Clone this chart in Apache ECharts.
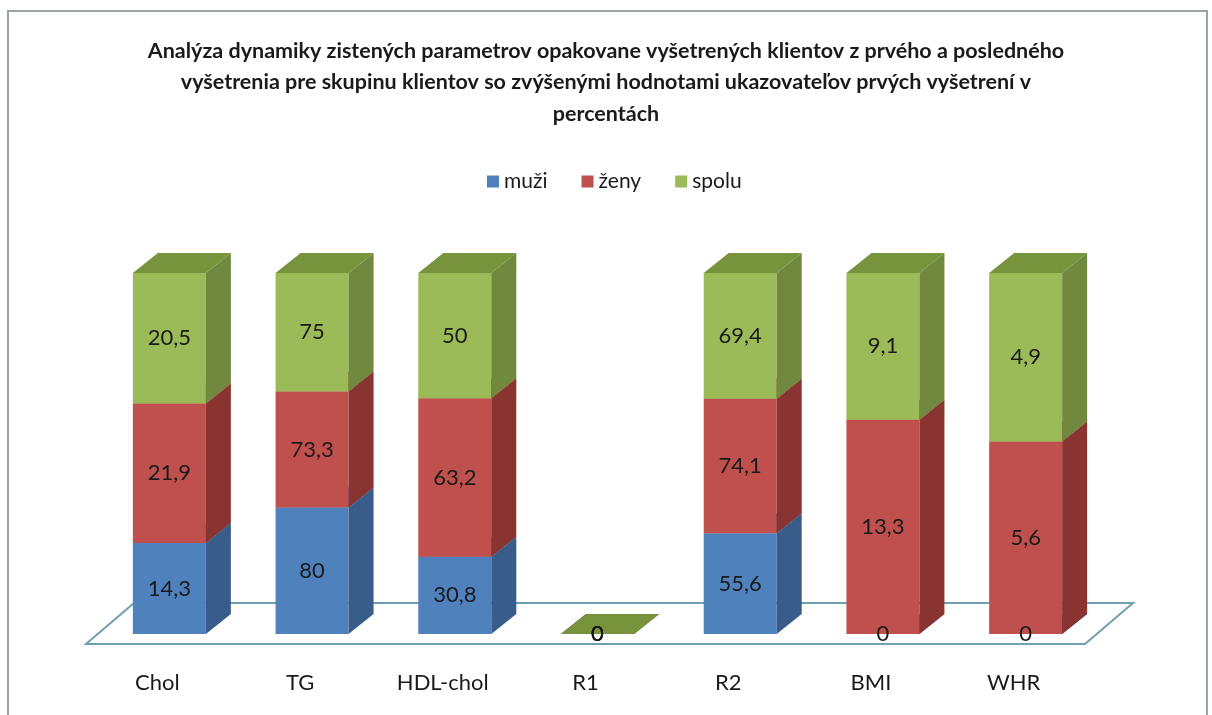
<!DOCTYPE html>
<html>
<head>
<meta charset="utf-8">
<script src="https://cdn.jsdelivr.net/npm/echarts@6/dist/echarts.min.js"></script>
<style>
  html, body { margin: 0; padding: 0; background: #fff; }
  #chart { width: 1212px; height: 715px; }
</style>
</head>
<body>
<div id="chart"></div>
<script>
// data
const categories = ["Chol", "TG", "HDL-chol", "R1", "R2", "BMI", "WHR"];
const muzi = [14.3, 80, 30.8, 0, 55.6, 0, 0];
const zeny = [21.9, 73.3, 63.2, 0, 74.1, 13.3, 5.6];
const spolu = [20.5, 75, 50, 0, 69.4, 9.1, 4.9];
const seriesNames = ["muži", "ženy", "spolu"];

const font = "Lato, 'Open Sans', sans-serif";
const faces = [
  { front: "#4f81bd", side: "#385d8a", top: "#4672a8" },
  { front: "#c0504d", side: "#8a3432", top: "#a3413e" },
  { front: "#9bbb59", side: "#71893f", top: "#77933c" }
];

// 100 % stacking: each segment is its share of the category total
const raw = [muzi, zeny, spolu];
const stacked = raw.map(() => []);
categories.forEach((c, i) => {
  const total = muzi[i] + zeny[i] + spolu[i];
  let acc = 0;
  raw.forEach((arr, s) => {
    const share = total ? (arr[i] / total) * 100 : 0;
    stacked[s].push([i, acc, acc + share, arr[i]]);
    acc += share;
  });
});

const OFF_X = 12, OFF_Y = -10;   // bars sit in the middle of the floor depth
const DEP_X = 25, DEP_Y = -20;   // 3d depth of a bar
const BAR_W = 73;

function makeRender(s) {
  return function (params, api) {
    const i = api.value(0);
    const p0 = api.coord([i, api.value(1)]);
    const p1 = api.coord([i, api.value(2)]);
    const x0 = p0[0] - BAR_W / 2 + OFF_X;
    const x1 = x0 + BAR_W;
    const yb = p0[1] + OFF_Y;
    const yt = p1[1] + OFF_Y;
    const f = faces[s];
    return {
      type: "group",
      children: [
        { type: "rect", z2: s, shape: { x: x0, y: yt, width: BAR_W, height: yb - yt }, style: { fill: f.front } },
        { type: "polygon", z2: s, shape: { points: [[x1, yb], [x1 + DEP_X, yb + DEP_Y], [x1 + DEP_X, yt + DEP_Y], [x1, yt]] }, style: { fill: f.side } },
        { type: "polygon", z2: s, shape: { points: [[x0, yt], [x1, yt], [x1 + DEP_X, yt + DEP_Y], [x0 + DEP_X, yt + DEP_Y]] }, style: { fill: f.top } },
        { type: "text", z2: 100, style: { text: String(api.value(3)).replace(".", ","), x: x0 + BAR_W / 2, y: (yb + yt) / 2, align: "center", verticalAlign: "middle", fontSize: 22, fontFamily: font, fill: "#1a1a1a" } }
      ]
    };
  };
}

function renderFloor(params, api) {
  const cs = params.coordSys;
  const xl = cs.x, xr = cs.x + cs.width, yb = cs.y + cs.height;
  return {
    type: "polygon",
    shape: { points: [[xl, yb], [xr, yb], [xr + 48, yb - 41], [xl + 48, yb - 41]] },
    style: { fill: "#fff", stroke: "#6f9fb3", lineWidth: 2 }
  };
}

const chart = echarts.init(document.getElementById("chart"));
const option = {
  backgroundColor: "#fff",
  animation: false,
  graphic: [{
    type: "rect", shape: { x: 8, y: 11, width: 1199, height: 720 },
    style: { fill: null, stroke: "#9aa3a8", lineWidth: 2 }, silent: true, z: 0
  }],
  title: {
    text: "Analýza dynamiky zistených parametrov opakovane vyšetrených klientov z prvého a posledného\nvyšetrenia pre skupinu klientov so zvýšenými hodnotami ukazovateľov prvých vyšetrení v\npercentách",
    left: "center",
    top: 30,
    textStyle: { fontSize: 21.5, fontWeight: "bold", lineHeight: 31.5, color: "#1a1a1a", fontFamily: font }
  },
  legend: {
    data: seriesNames,
    left: 482,
    top: 166,
    icon: "rect",
    itemWidth: 12,
    itemHeight: 12,
    itemGap: 34,
    textStyle: { fontSize: 21, color: "#1a1a1a", fontFamily: font }
  },
  grid: { left: 86, right: 127, top: 283, bottom: 71 },
  xAxis: {
    type: "category",
    data: categories,
    axisLine: { show: false },
    axisTick: { show: false },
    axisLabel: { fontSize: 22, color: "#1a1a1a", fontFamily: font, margin: 28 }
  },
  yAxis: { type: "value", min: 0, max: 100, show: false },
  series: [
    { type: "custom", name: "floor", renderItem: renderFloor, data: [[0]], z: 1, silent: true, clip: false },
    ...seriesNames.map((n, s) => ({
      type: "custom",
      name: n,
      renderItem: makeRender(s),
      data: stacked[s],
      itemStyle: { color: faces[s].front },
      encode: { x: 0, y: [1, 2] },
      clip: false,
      z: 2
    }))
  ]
};
option && chart.setOption(option);
</script>
</body>
</html>
